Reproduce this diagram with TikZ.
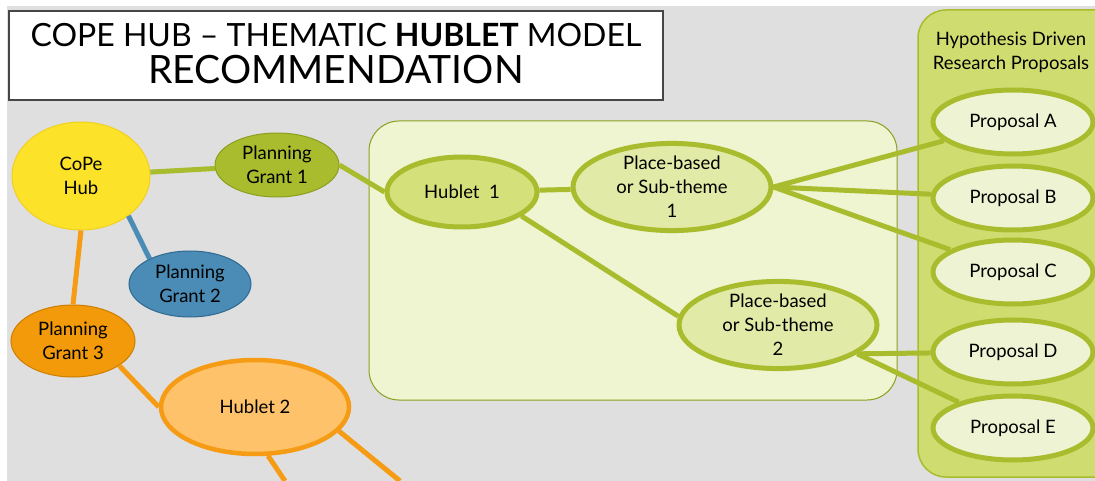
\documentclass[tikz,border=0pt]{standalone}
\usepackage{fontspec}
\setmainfont{Lato}
\usetikzlibrary{shapes.geometric}

\definecolor{bggray}{RGB}{223,223,223}
\definecolor{frame}{RGB}{70,70,70}
\definecolor{copeyellow}{RGB}{253,226,42}
\definecolor{copeedge}{RGB}{240,208,30}
\definecolor{olive}{RGB}{168,188,46}
\definecolor{oliveedge}{RGB}{140,158,30}
\definecolor{steel}{RGB}{74,140,182}
\definecolor{steeledge}{RGB}{47,105,145}
\definecolor{amber}{RGB}{242,154,10}
\definecolor{amberedge}{RGB}{205,125,0}
\definecolor{peach}{RGB}{254,195,106}
\definecolor{lineorange}{RGB}{245,155,20}
\definecolor{paleframe}{RGB}{239,245,209}
\definecolor{panelgreen}{RGB}{207,221,112}
\definecolor{hubgreen}{RGB}{212,224,122}
\definecolor{placegreen}{RGB}{225,234,166}
\definecolor{propgreen}{RGB}{238,244,211}

\begin{document}
\begin{tikzpicture}[x=1pt,y=1pt,yscale=-1,
    bub/.style={ellipse,inner sep=0pt,align=center,font=\fontsize{18.5}{24}\selectfont},
    thin bub/.style={bub,line width=1pt},
    thick bub/.style={bub,line width=5pt,draw=olive},
    conn/.style={line width=5pt}]
\useasboundingbox (0,0) rectangle (1095,481);

% Background
\fill[white] (0,0) rectangle (1095,481);
\fill[bggray] (7,6) rectangle (1095,481);

% Title box
\draw[frame, line width=2.5pt, fill=white] (9,11) rectangle (663,100);
\node[font=\fontsize{32}{32}\selectfont] (titleA) at (336,35) {COPE HUB -- THEMATIC \textbf{HUBLET} MODEL};
\node[font=\fontsize{39}{39}\selectfont] (titleB) at (336,70) {RECOMMENDATION};

% Hublet 1 frame
\draw[oliveedge, line width=1pt, fill=paleframe, rounded corners=30] (369,121) rectangle (897,400);

% Proposals column
\draw[olive, line width=1.5pt, fill=panelgreen, rounded corners=28] (918,10) rectangle (1125,477);
\node[font=\fontsize{18.5}{24}\selectfont, align=center] (panelhead) at (1011,52) {Hypothesis Driven\\Research Proposals};

% Left side nodes
\node[thin bub, draw=copeedge, fill=copeyellow, minimum width=138, minimum height=108] (cope) at (81,176) {CoPe\\Hub};
\node[thin bub, draw=oliveedge, fill=olive, minimum width=124, minimum height=64] (pg1) at (277,165) {Planning\\Grant 1};
\node[thin bub, draw=steeledge, fill=steel, minimum width=122, minimum height=66] (pg2) at (190,284) {Planning\\Grant 2};
\node[thin bub, draw=amberedge, fill=amber, minimum width=124, minimum height=72] (pg3) at (73,341) {Planning\\Grant 3};
\node[bub, line width=4.5pt, draw=lineorange, fill=peach, minimum width=188, minimum height=94] (hub2) at (255,407) {Hublet 2};

% Hublet 1 and its themes
\node[thick bub, fill=hubgreen, minimum width=150, minimum height=70] (hub1) at (462,192) {Hublet\ \ 1};
\node[thick bub, fill=placegreen, minimum width=198, minimum height=84] (pb1) at (672,187) {Place-based\\or Sub-theme\\1};
\node[thick bub, fill=placegreen, minimum width=198, minimum height=82] (pb2) at (778,325) {Place-based\\or Sub-theme\\2};

% Proposals
\foreach \n/\y in {A/122, B/198, C/272, D/352, E/428}
  \node[thick bub, fill=propgreen, minimum width=160, minimum height=64] (p\n) at (1013,\y) {Proposal \n};

% Free ends below Hublet 2
\coordinate (downA) at (285,481);
\coordinate (downB) at (400,481);

% Connectors
\draw[conn, olive] (cope) -- (pg1);
\draw[conn, steel] (cope.-40) -- (pg2.148);
\draw[conn, lineorange] (cope.south) -- (pg3.north);
\draw[conn, lineorange] (pg3.-28) -- (hub2.west);
\draw[conn, lineorange] (hub2.-75) -- (downA);
\draw[conn, lineorange] (hub2.-16) -- (downB);
\draw[conn, olive] (pg1.east) -- (hub1.west);
\draw[conn, olive] (hub1) -- (pb1);
\draw[conn, olive] (hub1.-22) -- (pb2.175);
\foreach \n in {A,B,C}
  \draw[conn, olive] (pb1.east) -- (p\n);
\foreach \n in {D,E}
  \draw[conn, olive] (pb2.-20) -- (p\n);

\end{tikzpicture}
\end{document}
